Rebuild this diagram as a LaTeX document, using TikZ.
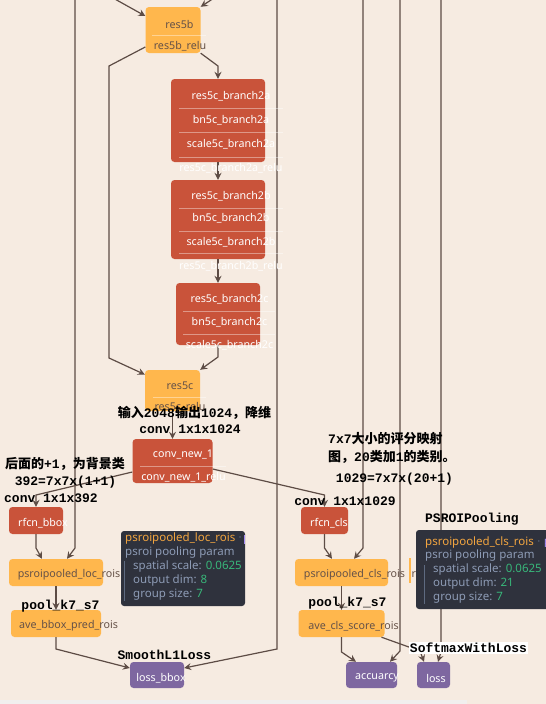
\documentclass[tikz,border=0pt]{standalone}
\usepackage{fontspec}
\newfontfamily\uifont{Noto Sans}
\newfontfamily\cjk{Noto Sans CJK SC}
\newfontfamily\annmono{Liberation Mono}
\usetikzlibrary{arrows.meta, positioning}

\definecolor{canvas}{HTML}{F6EBE1}
\definecolor{strip}{HTML}{F1EFEE}
\definecolor{edge}{HTML}{5D4C45}
\definecolor{dataorange}{HTML}{FFB74D}
\definecolor{convred}{HTML}{C9533A}
\definecolor{losspurple}{HTML}{7E67A0}
\definecolor{textbrown}{HTML}{665248}
\definecolor{tipbg}{HTML}{2F323D}
\definecolor{tiporange}{HTML}{F2A540}
\definecolor{tipgrey}{HTML}{8D9BB5}
\definecolor{tipdim}{HTML}{5E6A80}
\definecolor{tipgreen}{HTML}{38B77A}
\definecolor{tippurple}{HTML}{A58BF5}

\newcommand\hanzi[1]{{\cjk\bfseries #1}}

\tikzset{
  layer/.style = {rounded corners=3.5pt, inner sep=0pt},
  orangebox/.style = {layer, fill=dataorange},
  redbox/.style = {layer, fill=convred},
  purplebox/.style = {layer, fill=losspurple},
  lyrtext/.style = {font=\uifont\fontsize{10.7}{12}\selectfont, inner sep=0pt, text=textbrown},
  lyrwhite/.style = {lyrtext, text=white},
  divider/.style = {white, opacity=0.4, line width=0.8pt},
  link/.style = {draw=edge, line width=1.2pt, -{Stealth[length=7pt, width=7pt, inset=2.5pt]}},
  note/.style = {font=\annmono\bfseries\fontsize{13}{15}\selectfont, inner sep=0pt, text=black},
  tipbox/.style = {fill=tipbg, rounded corners=3pt, inner sep=0pt},
  tiptext/.style = {font=\uifont\fontsize{11.5}{13}\selectfont, inner sep=0pt, anchor=west, text=tipgrey},
  tiptitle/.style = {tiptext, text=tiporange},
  tipguide/.style = {draw=tipdim, line width=0.7pt}
}

\begin{document}
\begin{tikzpicture}[x=1pt, y=-1pt]

  % Canvas
  \useasboundingbox (0,0) rectangle (546,704);
  \fill[canvas] (0,0) rectangle (546,704);
  \fill[strip] (0,700) rectangle (467,704);

  % Free ends of the long edges
  \coordinate (in1) at (113,-2);
  \coordinate (in2) at (214,-2);
  \coordinate (top75) at (75,-2);
  \coordinate (top277) at (277,-2);
  \coordinate (top363) at (363,-2);
  \coordinate (top400) at (400,-2);
  \coordinate (top441) at (441,-2);

  % Layers
  \node[orangebox, minimum width=55pt, minimum height=46pt] (res5b) at (173,30) {};
  \node[redbox, minimum width=94pt, minimum height=83pt] (b2a) at (218,120.5) {};
  \node[redbox, minimum width=94pt, minimum height=79pt] (b2b) at (218,219.5) {};
  \node[redbox, minimum width=84pt, minimum height=62pt] (b2c) at (218,314) {};
  \node[orangebox, minimum width=55pt, minimum height=41pt] (res5c) at (172.5,390.5) {};
  \node[redbox, minimum width=80pt, minimum height=44pt] (convnew) at (172.5,461) {};
  \node[redbox, minimum width=54pt, minimum height=27pt] (rfcnbbox) at (36,520.5) {};
  \node[redbox, minimum width=47pt, minimum height=27pt] (rfcncls) at (324.5,520.5) {};
  \node[orangebox, minimum width=94pt, minimum height=27pt] (psloc) at (56,572.5) {};
  \node[orangebox, minimum width=90pt, minimum height=27pt] (avebbox) at (56,623.5) {};
  \node[orangebox, minimum width=93pt, minimum height=27pt] (pscls) at (341.5,572.5) {};
  \node[orangebox, minimum width=86pt, minimum height=27pt] (avecls) at (341.5,623.5) {};
  \node[purplebox, minimum width=54pt, minimum height=26pt] (lossbbox) at (157,675) {};
  \node[purplebox, minimum width=51pt, minimum height=26pt] (acc) at (371.5,675) {};
  \node[purplebox, minimum width=33pt, minimum height=26pt] (loss) at (433.5,675) {};

  % Edges
  \draw[link] (in1) -- ([yshift=14pt]res5b.west);
  \draw[link] (in2) -- (res5b.north east);
  \draw[link] ([yshift=-17pt]res5b.west) -- (109,66) -- (109,358) -- (res5c.150);
  \draw[link] (res5b.south east) -- (218,66) -- (b2a.north);
  \draw[link] (b2a.south) -- (b2b.north);
  \draw[link] (b2b.south) -- (b2c.north);
  \draw[link] (b2c.south) -- (218,357) -- (res5c.north east);
  \draw[link] (res5c.south) -- (convnew.north);
  \draw[link] ([yshift=-11pt]convnew.west) -- (36,495) -- (rfcnbbox.north);
  \draw[link] ([yshift=-8pt]convnew.east) -- (324.5,495) -- (rfcncls.north);
  \draw[link] (rfcnbbox.south) -- (36,548) -- ([xshift=-14pt]psloc.north);
  \draw[link] (top75) -- (75,548) -- ([xshift=11pt]psloc.north);
  \draw[link] (psloc.south) -- (avebbox.north);
  \draw[link] (avebbox.south) -- (56,649) -- ([yshift=7pt]lossbbox.west);
  \draw[link] (top277) -- (277,649) -- ([yshift=7pt]lossbbox.east);
  \draw[link] (rfcncls.south) -- (324.5,548) -- ([xshift=-9.5pt]pscls.north);
  \draw[link] (top363) -- (363,548) -- ([xshift=12.5pt]pscls.north);
  \draw[link] (pscls.south) -- (avecls.north);
  \draw[link] (avecls.south) -- (341.5,652) -- ([xshift=-15.5pt]acc.north);
  \draw[link] ([xshift=40pt]avecls.south) -- (420,651) -- ([xshift=-9.5pt]loss.north);
  \draw[link] (top400) -- (400,651) -- ([xshift=18.5pt]acc.north);
  \draw[link] (top441) -- (441,652) -- ([xshift=4.5pt]loss.north);

  % res5b
  \node[lyrtext] at (179.5,24) {res5b};
  \draw[divider] (152,35) -- (206,35);
  \node[lyrtext] at (180,46.5) {res5b\_relu};

  % res5c_branch2a
  \node[lyrwhite] at (231,96) {res5c\_branch2a};
  \draw[divider] (179,108) -- (283,108);
  \node[lyrwhite] at (231,120.5) {bn5c\_branch2a};
  \draw[divider] (179,132.5) -- (283,132.5);
  \node[lyrwhite] at (231,144) {scale5c\_branch2a};
  \draw[divider] (179,157) -- (283,157);
  \node[lyrwhite] at (231,168.5) {res5c\_branch2a\_relu};

  % res5c_branch2b
  \node[lyrwhite] at (231,196) {res5c\_branch2b};
  \draw[divider] (179,208) -- (283,208);
  \node[lyrwhite] at (231,218.5) {bn5c\_branch2b};
  \draw[divider] (179,231) -- (283,231);
  \node[lyrwhite] at (231,242) {scale5c\_branch2b};
  \draw[divider] (179,253) -- (283,253);
  \node[lyrwhite] at (231,266) {res5c\_branch2b\_relu};

  % res5c_branch2c
  \node[lyrwhite] at (229.5,299) {res5c\_branch2c};
  \draw[divider] (183,311) -- (275,311);
  \node[lyrwhite] at (229.5,322.5) {bn5c\_branch2c};
  \draw[divider] (183,334) -- (275,334);
  \node[lyrwhite] at (229.5,345) {scale5c\_branch2c};

  % res5c
  \node[lyrtext] at (180,386) {res5c};
  \draw[divider] (153,397) -- (206,397);
  \node[lyrtext] at (180,407.5) {res5c\_relu};

  % conv_new_1
  \node[lyrwhite] at (183,454) {conv\_new\_1};
  \draw[divider] (140,466) -- (226,466);
  \node[lyrwhite] at (183.5,477) {conv\_new\_1\_relu};

  % Heads
  \node[lyrwhite] at (43,523) {rfcn\_bbox};
  \node[lyrwhite] at (329,523) {rfcn\_cls};
  \node[lyrtext] at (69,575) {psroipooled\_loc\_rois};
  \node[lyrtext] at (68.5,626) {ave\_bbox\_pred\_rois};
  \node[lyrtext] at (354.5,575) {psroipooled\_cls\_rois};
  \node[lyrtext] at (353.5,626) {ave\_cls\_score\_rois};
  \node[lyrwhite] at (161,678) {loss\_bbox};
  \node[lyrwhite] at (377,678) {accuarcy};
  \node[lyrwhite] at (436,678) {loss};

  % Layer hidden under the tooltip
  \fill[dataorange] (409,558) rectangle (411,583);
  \node[lyrtext, anchor=west] at (411.5,575) {ro};

  % Tooltip psroipooled_loc_rois
  \node[tipbox, minimum width=124pt, minimum height=75pt] (loctip) at (183,568.5) {};
  \node[tiptitle] (loctitle) at (125,539) {psroipooled\_loc\_rois};
  \node[tiptext, text=tipdim, right=3pt of loctitle] {·};
  \fill[tippurple] (243.5,535) rectangle (245,544);
  \node[tiptext] at (125,553) {psroi pooling param};
  \node[tiptext] at (133,567) {spatial scale: \textcolor{tipgreen}{0.0625}};
  \node[tiptext] at (133,581) {output dim: \textcolor{tipgreen}{8}};
  \node[tiptext] at (133,595) {group size: \textcolor{tipgreen}{7}};
  \draw[tipguide] (124.5,561) -- (124.5,601);

  % Tooltip psroipooled_cls_rois
  \node[tipbox, minimum width=140pt, minimum height=79pt] (clstip) at (486,569.5) {};
  \node[tiptitle] (clstitle) at (425,543) {psroipooled\_cls\_rois};
  \node[tiptext, text=tipdim, right=3pt of clstitle] (clsdot) {·};
  \node[tiptext, text=tippurple, right=3pt of clsdot] {P};
  \node[tiptext] at (425,556) {psroi pooling param};
  \node[tiptext] at (433,570) {spatial scale: \textcolor{tipgreen}{0.0625}};
  \node[tiptext] at (433,583.5) {output dim: \textcolor{tipgreen}{21}};
  \node[tiptext] at (433,598) {group size: \textcolor{tipgreen}{7}};
  \draw[tipguide] (424,565) -- (424,604);

  % Notes
  \node[note] at (194.5,413) {\hanzi{输入}2048\hanzi{输出}1024\hanzi{，降维}};
  \node[note] at (190,429) {conv 1x1x1024};
  \node[note] at (65,464) {\hanzi{后面的}+1\hanzi{，为背景类}};
  \node[note] at (65.5,482) {392=7x7x(1+1)};
  \node[note] at (51,498) {conv 1x1x392};
  \node[note, anchor=west] at (328,439) {7x7\hanzi{大小的评分映射}};
  \node[note, anchor=west] at (328,457) {\hanzi{图，}20\hanzi{类加}1\hanzi{的类别。}};
  \node[note] at (394.5,479) {1029=7x7x(20+1)};
  \node[note] at (345,501) {conv 1x1x1029};
  \node[note] at (472,519) {PSROIPooling};
  \node[note] at (60.5,606) {pool\_k7\_s7};
  \node[note] at (347.5,603) {pool\_k7\_s7};
  \node[note] at (164.5,655) {SmoothL1Loss};
  \node[note, fill=white, inner sep=1pt] at (468.5,648) {SoftmaxWithLoss};

\end{tikzpicture}
\end{document}
